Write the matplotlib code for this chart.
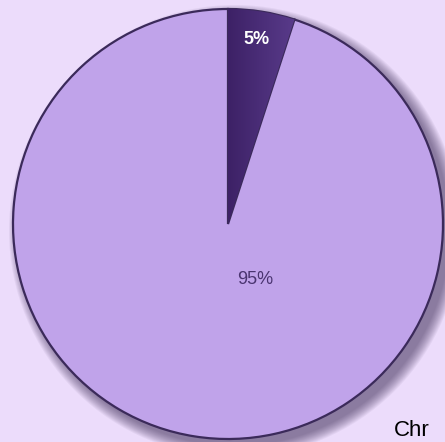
import numpy as np
import matplotlib.pyplot as plt
from matplotlib.patches import Circle
from matplotlib.colors import LinearSegmentedColormap

plt.rcParams['font.family'] = ['Liberation Sans', 'DejaVu Sans']

# --- Data ---
legend_text = 'Chr'
shares = [5, 95]
slice_colors = ['#4b2d7a', '#c0a3ea']
label_colors = ['white', '#4a3470']

W, H = 445, 442
cx, cy, R = 228, 442 - 224, 215

fig = plt.figure(figsize=(W / 100, H / 100), dpi=100)
fig.patch.set_facecolor('#ecdcfb')
ax = fig.add_axes([0, 0, 1, 1])

# soft drop shadow towards the lower right
for i in range(12):
    ax.add_patch(Circle((cx + 7, cy - 7), R + 11 - i, color='#3a2a55',
                        alpha=0.06, lw=0, zorder=0))

wedges, _ = ax.pie(shares, startangle=90, counterclock=False,
                   colors=slice_colors, center=(cx, cy), radius=R,
                   wedgeprops=dict(edgecolor='#3b2a5a', linewidth=1.6),
                   frame=True)

# darker-to-lighter shading on the small slice
grad = np.linspace(0, 1, 256).reshape(1, -1)
cmap = LinearSegmentedColormap.from_list('sl', ['#3d2166', '#5a3c8c'])
img = ax.imshow(grad, cmap=cmap, extent=(cx, cx + 70, cy, cy + R + 2),
                aspect='auto', zorder=1.5)
img.set_clip_path(wedges[0])

ax.set_xlim(0, W)
ax.set_ylim(0, H)
ax.set_aspect('equal')
ax.axis('off')

# slice labels
ax.text(cx + 28, cy + 184, f'{shares[0]}%', color=label_colors[0],
        fontsize=13, fontweight='bold', ha='center', va='center', zorder=3)
ax.text(cx + 27, cy - 56, f'{shares[1]}%', color=label_colors[1],
        fontsize=13, ha='center', va='center', zorder=3)

# legend text at the bottom right
ax.text(394, 1, legend_text, color='black', fontsize=16,
        ha='left', va='bottom')

fig.savefig('out.png', dpi=100, facecolor=fig.get_facecolor())
